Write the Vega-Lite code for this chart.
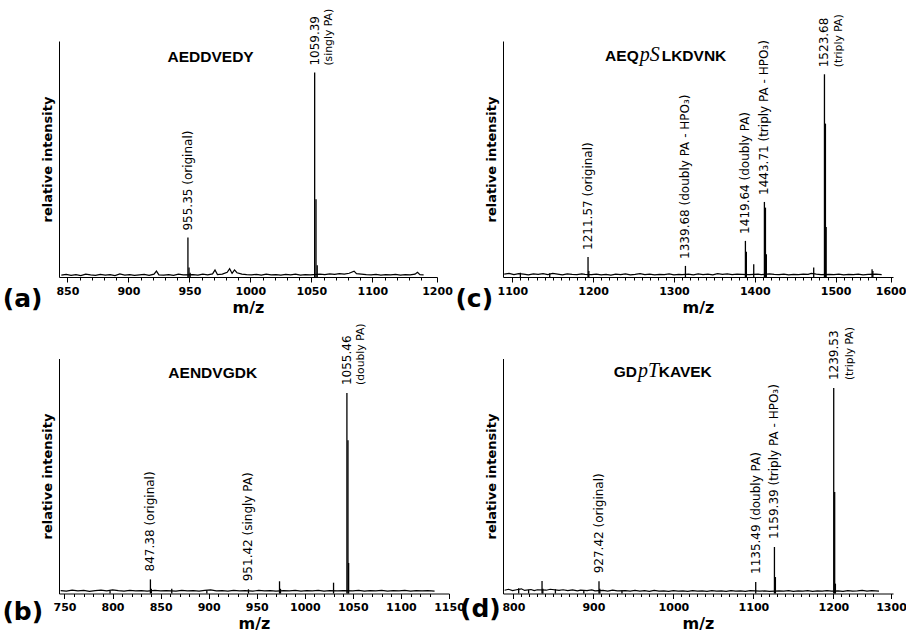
{
"$schema":"https://vega.github.io/schema/vega-lite/v6.json",
"background":"white",
"padding":{"left":2,"top":8,"right":0,"bottom":0},
"bounds":"flush",
"columns":2,
"spacing":{"row":81.5,"column":54},
"config":{
 "view":{"stroke":null},
 "text":{"font":"DejaVu Sans","color":"black"},
 "axis":{"labelFont":"DejaVu Sans","labelFontSize":11,"labelFontWeight":"bold","labelColor":"black","titleFont":"DejaVu Sans","titleColor":"black","titleFontWeight":"bold","domainColor":"black","tickColor":"black","grid":false,"labelOverlap":false,"labelFlush":false},
 "axisX":{"titleFontSize":16,"tickSize":5,"labelPadding":3,"titlePadding":3},
 "axisY":{"ticks":false,"labels":false,"titleFontSize":13,"titlePadding":5}
},
"datasets":{
"noiseA":[{"mz":845,"h":0.008},{"mz":849,"h":0.011},{"mz":853,"h":0.007},{"mz":857,"h":0.010},{"mz":861,"h":0.006},{"mz":865,"h":0.012},{"mz":869,"h":0.009},{"mz":873,"h":0.007},{"mz":877,"h":0.011},{"mz":881,"h":0.008},{"mz":885,"h":0.010},{"mz":889,"h":0.006},{"mz":893,"h":0.013},{"mz":897,"h":0.008},{"mz":901,"h":0.010},{"mz":905,"h":0.007},{"mz":909,"h":0.009},{"mz":913,"h":0.011},{"mz":917,"h":0.007},{"mz":921,"h":0.012},{"mz":923,"h":0.025},{"mz":925,"h":0.009},{"mz":929,"h":0.008},{"mz":933,"h":0.010},{"mz":937,"h":0.007},{"mz":941,"h":0.012},{"mz":945,"h":0.009},{"mz":953,"h":0.010},{"mz":957,"h":0.008},{"mz":961,"h":0.012},{"mz":965,"h":0.009},{"mz":969,"h":0.013},{"mz":971,"h":0.03},{"mz":973,"h":0.010},{"mz":977,"h":0.012},{"mz":981,"h":0.02},{"mz":983,"h":0.035},{"mz":985,"h":0.015},{"mz":987,"h":0.03},{"mz":989,"h":0.018},{"mz":993,"h":0.012},{"mz":997,"h":0.010},{"mz":1001,"h":0.009},{"mz":1005,"h":0.011},{"mz":1009,"h":0.008},{"mz":1013,"h":0.012},{"mz":1017,"h":0.009},{"mz":1021,"h":0.010},{"mz":1025,"h":0.008},{"mz":1029,"h":0.011},{"mz":1033,"h":0.009},{"mz":1037,"h":0.012},{"mz":1041,"h":0.008},{"mz":1045,"h":0.010},{"mz":1049,"h":0.009},{"mz":1057,"h":0.012},{"mz":1061,"h":0.010},{"mz":1065,"h":0.013},{"mz":1069,"h":0.011},{"mz":1073,"h":0.014},{"mz":1077,"h":0.012},{"mz":1081,"h":0.016},{"mz":1085,"h":0.025},{"mz":1087,"h":0.014},{"mz":1091,"h":0.012},{"mz":1095,"h":0.010},{"mz":1099,"h":0.009},{"mz":1103,"h":0.011},{"mz":1107,"h":0.008},{"mz":1111,"h":0.010},{"mz":1115,"h":0.009},{"mz":1119,"h":0.011},{"mz":1123,"h":0.008},{"mz":1127,"h":0.010},{"mz":1131,"h":0.009},{"mz":1135,"h":0.012},{"mz":1137,"h":0.02},{"mz":1139,"h":0.010},{"mz":1142,"h":0.009}],
"peaksA":[{"mz":948.8,"h":0.167,"lab":"955.35 (original)"},{"mz":949.7,"h":0.04},{"mz":950.6,"h":0.018},{"mz":1052.7,"h":0.866,"lab":"1059.39","lab2":"(singly PA)"},{"mz":1053.8,"h":0.329},{"mz":1054.8,"h":0.05}],
"noiseB":[{"mz":746,"h":0.012},{"mz":752,"h":0.010},{"mz":758,"h":0.014},{"mz":764,"h":0.011},{"mz":770,"h":0.013},{"mz":776,"h":0.009},{"mz":782,"h":0.012},{"mz":788,"h":0.014},{"mz":794,"h":0.011},{"mz":800,"h":0.015},{"mz":806,"h":0.012},{"mz":812,"h":0.010},{"mz":818,"h":0.013},{"mz":824,"h":0.011},{"mz":830,"h":0.012},{"mz":836,"h":0.010},{"mz":844,"h":0.013},{"mz":850,"h":0.011},{"mz":856,"h":0.012},{"mz":866,"h":0.010},{"mz":872,"h":0.013},{"mz":878,"h":0.011},{"mz":884,"h":0.012},{"mz":890,"h":0.010},{"mz":896,"h":0.013},{"mz":902,"h":0.015},{"mz":908,"h":0.011},{"mz":914,"h":0.012},{"mz":920,"h":0.010},{"mz":926,"h":0.013},{"mz":932,"h":0.011},{"mz":938,"h":0.012},{"mz":946,"h":0.010},{"mz":952,"h":0.013},{"mz":958,"h":0.011},{"mz":964,"h":0.012},{"mz":970,"h":0.010},{"mz":978,"h":0.012},{"mz":984,"h":0.011},{"mz":990,"h":0.013},{"mz":996,"h":0.010},{"mz":1002,"h":0.012},{"mz":1008,"h":0.011},{"mz":1014,"h":0.013},{"mz":1020,"h":0.010},{"mz":1026,"h":0.012},{"mz":1034,"h":0.011},{"mz":1040,"h":0.012},{"mz":1050,"h":0.011},{"mz":1056,"h":0.013},{"mz":1062,"h":0.010},{"mz":1068,"h":0.012},{"mz":1074,"h":0.011},{"mz":1080,"h":0.013},{"mz":1086,"h":0.010},{"mz":1092,"h":0.012},{"mz":1098,"h":0.011},{"mz":1104,"h":0.013},{"mz":1110,"h":0.010},{"mz":1116,"h":0.012},{"mz":1122,"h":0.011},{"mz":1128,"h":0.012},{"mz":1135,"h":0.010}],
"peaksB":[{"mz":797.4,"h":0.012},{"mz":839.4,"h":0.06,"lab":"847.38 (original)"},{"mz":840.4,"h":0.02},{"mz":861.6,"h":0.02},{"mz":898.1,"h":0.014},{"mz":941.4,"h":0.018,"lab":"951.42 (singly PA)"},{"mz":973.7,"h":0.052},{"mz":974.7,"h":0.02},{"mz":1029.9,"h":0.046},{"mz":1043.8,"h":0.853,"lab":"1055.46","lab2":"(doubly PA)"},{"mz":1044.9,"h":0.652},{"mz":1045.6,"h":0.13}],
"noiseC":[{"mz":1090,"h":0.012},{"mz":1096,"h":0.015},{"mz":1102,"h":0.010},{"mz":1108,"h":0.014},{"mz":1114,"h":0.012},{"mz":1120,"h":0.009},{"mz":1126,"h":0.013},{"mz":1132,"h":0.011},{"mz":1138,"h":0.014},{"mz":1144,"h":0.010},{"mz":1150,"h":0.015},{"mz":1156,"h":0.012},{"mz":1162,"h":0.009},{"mz":1168,"h":0.013},{"mz":1174,"h":0.011},{"mz":1180,"h":0.010},{"mz":1186,"h":0.013},{"mz":1190,"h":0.011},{"mz":1198,"h":0.010},{"mz":1204,"h":0.012},{"mz":1210,"h":0.009},{"mz":1216,"h":0.011},{"mz":1222,"h":0.008},{"mz":1228,"h":0.012},{"mz":1234,"h":0.010},{"mz":1240,"h":0.013},{"mz":1246,"h":0.009},{"mz":1252,"h":0.011},{"mz":1258,"h":0.014},{"mz":1264,"h":0.010},{"mz":1270,"h":0.012},{"mz":1276,"h":0.009},{"mz":1282,"h":0.011},{"mz":1288,"h":0.010},{"mz":1294,"h":0.013},{"mz":1300,"h":0.009},{"mz":1306,"h":0.011},{"mz":1310,"h":0.010},{"mz":1318,"h":0.012},{"mz":1324,"h":0.009},{"mz":1330,"h":0.013},{"mz":1336,"h":0.010},{"mz":1342,"h":0.012},{"mz":1348,"h":0.009},{"mz":1354,"h":0.014},{"mz":1360,"h":0.011},{"mz":1366,"h":0.013},{"mz":1372,"h":0.010},{"mz":1378,"h":0.012},{"mz":1384,"h":0.011},{"mz":1393,"h":0.010},{"mz":1404,"h":0.012},{"mz":1408,"h":0.010},{"mz":1418,"h":0.013},{"mz":1424,"h":0.011},{"mz":1430,"h":0.010},{"mz":1436,"h":0.012},{"mz":1442,"h":0.009},{"mz":1448,"h":0.011},{"mz":1454,"h":0.010},{"mz":1460,"h":0.012},{"mz":1466,"h":0.011},{"mz":1470,"h":0.015},{"mz":1476,"h":0.012},{"mz":1482,"h":0.010},{"mz":1492,"h":0.011},{"mz":1498,"h":0.010},{"mz":1504,"h":0.012},{"mz":1510,"h":0.009},{"mz":1516,"h":0.011},{"mz":1522,"h":0.010},{"mz":1528,"h":0.012},{"mz":1534,"h":0.009},{"mz":1540,"h":0.011},{"mz":1550,"h":0.012},{"mz":1557,"h":0.010}],
"peaksC":[{"mz":1110,"h":0.018},{"mz":1146.3,"h":0.016},{"mz":1193.7,"h":0.085,"lab":"1211.57 (original)"},{"mz":1194.7,"h":0.025},{"mz":1314.2,"h":0.047,"lab":"1339.68 (doubly PA - HPO₃)"},{"mz":1388.4,"h":0.153,"lab":"1419.64 (doubly PA)"},{"mz":1389.6,"h":0.107},{"mz":1398.7,"h":0.054},{"mz":1411.9,"h":0.318,"lab":"1443.71 (triply PA - HPO₃)"},{"mz":1413.2,"h":0.294},{"mz":1414.3,"h":0.096},{"mz":1472.9,"h":0.04},{"mz":1486.2,"h":0.859,"lab":"1523.68","lab2":"(triply PA)"},{"mz":1487.4,"h":0.65},{"mz":1488.3,"h":0.212},{"mz":1545.1,"h":0.033},{"mz":1546.1,"h":0.025}],
"noiseD":[{"mz":789,"h":0.014},{"mz":794,"h":0.018},{"mz":799,"h":0.012},{"mz":804,"h":0.016},{"mz":810,"h":0.02},{"mz":814,"h":0.013},{"mz":822,"h":0.017},{"mz":826,"h":0.012},{"mz":830,"h":0.016},{"mz":841,"h":0.014},{"mz":846,"h":0.018},{"mz":857,"h":0.013},{"mz":862,"h":0.016},{"mz":868,"h":0.012},{"mz":874,"h":0.015},{"mz":880,"h":0.011},{"mz":884,"h":0.014},{"mz":892,"h":0.012},{"mz":898,"h":0.015},{"mz":902,"h":0.011},{"mz":912,"h":0.013},{"mz":918,"h":0.010},{"mz":924,"h":0.014},{"mz":930,"h":0.011},{"mz":940,"h":0.012},{"mz":946,"h":0.010},{"mz":952,"h":0.013},{"mz":958,"h":0.010},{"mz":964,"h":0.012},{"mz":970,"h":0.009},{"mz":976,"h":0.013},{"mz":982,"h":0.010},{"mz":988,"h":0.011},{"mz":994,"h":0.009},{"mz":1000,"h":0.012},{"mz":1006,"h":0.010},{"mz":1012,"h":0.011},{"mz":1018,"h":0.009},{"mz":1024,"h":0.012},{"mz":1030,"h":0.010},{"mz":1036,"h":0.011},{"mz":1042,"h":0.009},{"mz":1048,"h":0.012},{"mz":1054,"h":0.010},{"mz":1060,"h":0.011},{"mz":1066,"h":0.009},{"mz":1072,"h":0.012},{"mz":1078,"h":0.010},{"mz":1084,"h":0.011},{"mz":1090,"h":0.009},{"mz":1096,"h":0.012},{"mz":1108,"h":0.010},{"mz":1114,"h":0.011},{"mz":1120,"h":0.009},{"mz":1132,"h":0.011},{"mz":1138,"h":0.010},{"mz":1144,"h":0.012},{"mz":1150,"h":0.009},{"mz":1156,"h":0.011},{"mz":1162,"h":0.010},{"mz":1168,"h":0.012},{"mz":1174,"h":0.009},{"mz":1180,"h":0.011},{"mz":1186,"h":0.010},{"mz":1192,"h":0.012},{"mz":1198,"h":0.010},{"mz":1206,"h":0.011},{"mz":1212,"h":0.009},{"mz":1218,"h":0.012},{"mz":1224,"h":0.010},{"mz":1230,"h":0.011},{"mz":1236,"h":0.013},{"mz":1242,"h":0.010},{"mz":1248,"h":0.012},{"mz":1257,"h":0.010}],
"peaksD":[{"mz":806.6,"h":0.022},{"mz":819,"h":0.016},{"mz":835.8,"h":0.053},{"mz":836.8,"h":0.02},{"mz":852.5,"h":0.018},{"mz":888,"h":0.014},{"mz":907,"h":0.052,"lab":"927.42 (original)"},{"mz":908,"h":0.02},{"mz":935.7,"h":0.013},{"mz":1102.9,"h":0.049,"lab":"1135.49 (doubly PA)"},{"mz":1126.3,"h":0.198,"lab":"1159.39 (triply PA - HPO₃)"},{"mz":1127.5,"h":0.07},{"mz":1200.4,"h":0.874,"lab":"1239.53","lab2":"(triply PA)"},{"mz":1201.6,"h":0.432},{"mz":1202.5,"h":0.042}]
},
"concat":[
{
 "width":378,"height":236,
 "title":{"text":"(a)","orient":"bottom","anchor":"start","frame":"group","dx":-56.3,"dy":-28,"offset":0,"font":"DejaVu Sans","fontSize":25,"fontWeight":"bold","color":"black"},
 "resolve":{"axis":{"x":"independent","y":"independent"}},
 "layer":[
  {"data":{"name":"noiseA"},"mark":{"type":"line","color":"black","strokeWidth":1.2},
   "encoding":{"x":{"field":"mz","type":"quantitative","scale":{"domain":[843.1,1153],"nice":false,"zero":false},"axis":{"orient":"bottom","title":"m/z","values":[850,900,950,1000,1050,1100,1153],"format":"d","labelExpr":"datum.value > 1140 ? '1200' : datum.label"}},
    "y":{"field":"h","type":"quantitative","scale":{"domain":[0,1],"nice":false},"axis":{"orient":"left","title":"relative intensity"}}}},
  {"data":{"name":"peaksA"},"mark":{"type":"rule","color":"black","strokeWidth":1.3},
   "encoding":{"x":{"field":"mz","type":"quantitative","scale":{"domain":[843.1,1153],"nice":false,"zero":false},"axis":{"orient":"bottom","title":null,"labels":false,"domain":false,"tickSize":3,"values":[860,870,880,890,910,920,930,940,960,970,980,990,1010,1020,1030,1040,1060,1070,1080,1090,1110,1120,1130,1140]}},
    "y":{"field":"h","type":"quantitative","scale":{"domain":[0,1],"nice":false},"axis":null},"y2":{"datum":0}}},
  {"data":{"name":"peaksA"},"transform":[{"filter":"isValid(datum.lab)"}],"mark":{"type":"text","angle":270,"align":"left","baseline":"middle","dx":7,"fontSize":12},
   "encoding":{"x":{"field":"mz","type":"quantitative","scale":{"domain":[843.1,1153],"nice":false,"zero":false},"axis":null},"y":{"field":"h","type":"quantitative","scale":{"domain":[0,1],"nice":false},"axis":null},"text":{"field":"lab"}}},
  {"data":{"name":"peaksA"},"transform":[{"filter":"isValid(datum.lab2)"}],"mark":{"type":"text","angle":270,"align":"left","baseline":"middle","dx":7,"dy":14,"fontSize":10.8},
   "encoding":{"x":{"field":"mz","type":"quantitative","scale":{"domain":[843.1,1153],"nice":false,"zero":false},"axis":null},"y":{"field":"h","type":"quantitative","scale":{"domain":[0,1],"nice":false},"axis":null},"text":{"field":"lab2"}}},
  {"data":{"values":[{"pep":"AEDDVEDY"}]},"mark":{"type":"text","font":"Liberation Sans","fontWeight":"bold","fontSize":15.5,"align":"center","baseline":"alphabetic"},
   "encoding":{"x":{"datum":967.4,"type":"quantitative","scale":{"domain":[843.1,1153],"nice":false,"zero":false},"axis":null},"y":{"datum":0.912,"type":"quantitative","scale":{"domain":[0,1],"nice":false},"axis":null},"text":{"field":"pep"}}}
 ]
},
{
 "width":390,"height":236,
 "title":{"text":"(c)","orient":"bottom","anchor":"start","frame":"group","dx":-47.6,"dy":-28,"offset":0,"font":"DejaVu Sans","fontSize":25,"fontWeight":"bold","color":"black"},
 "resolve":{"axis":{"x":"independent","y":"independent"}},
 "layer":[
  {"data":{"name":"noiseC"},"mark":{"type":"line","color":"black","strokeWidth":1.2},
   "encoding":{"x":{"field":"mz","type":"quantitative","scale":{"domain":[1088.5,1571],"nice":false,"zero":false},"axis":{"orient":"bottom","title":"m/z","values":[1100,1200,1300,1400,1500,1568],"format":"d","labelExpr":"datum.value > 1560 ? '1600' : datum.label"}},
    "y":{"field":"h","type":"quantitative","scale":{"domain":[0,1],"nice":false},"axis":{"orient":"left","title":"relative intensity"}}}},
  {"data":{"name":"peaksC"},"mark":{"type":"rule","color":"black","strokeWidth":1.3},
   "encoding":{"x":{"field":"mz","type":"quantitative","scale":{"domain":[1088.5,1571],"nice":false,"zero":false},"axis":{"orient":"bottom","title":null,"labels":false,"domain":false,"tickSize":3,"values":[1110,1120,1130,1140,1150,1160,1170,1180,1190,1210,1220,1230,1240,1250,1260,1270,1280,1290,1310,1320,1330,1340,1350,1360,1370,1380,1390,1410,1420,1430,1440,1450,1460,1470,1480,1490,1510,1520,1530,1540,1550]}},
    "y":{"field":"h","type":"quantitative","scale":{"domain":[0,1],"nice":false},"axis":null},"y2":{"datum":0}}},
  {"data":{"name":"peaksC"},"transform":[{"filter":"isValid(datum.lab)"}],"mark":{"type":"text","angle":270,"align":"left","baseline":"middle","dx":7,"fontSize":12},
   "encoding":{"x":{"field":"mz","type":"quantitative","scale":{"domain":[1088.5,1571],"nice":false,"zero":false},"axis":null},"y":{"field":"h","type":"quantitative","scale":{"domain":[0,1],"nice":false},"axis":null},"text":{"field":"lab"}}},
  {"data":{"name":"peaksC"},"transform":[{"filter":"isValid(datum.lab2)"}],"mark":{"type":"text","angle":270,"align":"left","baseline":"middle","dx":7,"dy":15,"fontSize":10.8},
   "encoding":{"x":{"field":"mz","type":"quantitative","scale":{"domain":[1088.5,1571],"nice":false,"zero":false},"axis":null},"y":{"field":"h","type":"quantitative","scale":{"domain":[0,1],"nice":false},"axis":null},"text":{"field":"lab2"}}},
  {"data":{"values":[{"pep":"AEQ"}]},"mark":{"type":"text","font":"Liberation Sans","fontWeight":"bold","fontSize":15.5,"align":"right","baseline":"alphabetic"},
   "encoding":{"x":{"datum":1256.4,"type":"quantitative","scale":{"domain":[1088.5,1571],"nice":false,"zero":false},"axis":null},"y":{"datum":0.915,"type":"quantitative","scale":{"domain":[0,1],"nice":false},"axis":null},"text":{"field":"pep"}}},
  {"data":{"values":[{"pep":"pS"}]},"mark":{"type":"text","font":"Liberation Serif","fontStyle":"italic","fontSize":20,"align":"left","baseline":"alphabetic","dx":1},
   "encoding":{"x":{"datum":1256.4,"type":"quantitative","scale":{"domain":[1088.5,1571],"nice":false,"zero":false},"axis":null},"y":{"datum":0.915,"type":"quantitative","scale":{"domain":[0,1],"nice":false},"axis":null},"text":{"field":"pep"}}},
  {"data":{"values":[{"pep":"LKDVNK"}]},"mark":{"type":"text","font":"Liberation Sans","fontWeight":"bold","fontSize":15.5,"align":"left","baseline":"alphabetic","dx":23},
   "encoding":{"x":{"datum":1256.4,"type":"quantitative","scale":{"domain":[1088.5,1571],"nice":false,"zero":false},"axis":null},"y":{"datum":0.915,"type":"quantitative","scale":{"domain":[0,1],"nice":false},"axis":null},"text":{"field":"pep"}}}
 ]
},
{
 "width":390,"height":235,
 "title":{"text":"(b)","orient":"bottom","anchor":"start","frame":"group","dx":-56.6,"dy":-32,"offset":0,"font":"DejaVu Sans","fontSize":25,"fontWeight":"bold","color":"black"},
 "resolve":{"axis":{"x":"independent","y":"independent"}},
 "layer":[
  {"data":{"name":"noiseB"},"mark":{"type":"line","color":"black","strokeWidth":1.2},
   "encoding":{"x":{"field":"mz","type":"quantitative","scale":{"domain":[744.3,1150],"nice":false,"zero":false},"axis":{"orient":"bottom","title":"m/z","values":[750,800,850,900,950,1000,1050,1100,1150],"format":"d"}},
    "y":{"field":"h","type":"quantitative","scale":{"domain":[0,1],"nice":false},"axis":{"orient":"left","title":"relative intensity"}}}},
  {"data":{"name":"peaksB"},"mark":{"type":"rule","color":"black","strokeWidth":1.3},
   "encoding":{"x":{"field":"mz","type":"quantitative","scale":{"domain":[744.3,1150],"nice":false,"zero":false},"axis":{"orient":"bottom","title":null,"labels":false,"domain":false,"tickSize":3,"values":[760,770,780,790,810,820,830,840,860,870,880,890,910,920,930,940,960,970,980,990,1010,1020,1030,1040,1060,1070,1080,1090,1110,1120,1130]}},
    "y":{"field":"h","type":"quantitative","scale":{"domain":[0,1],"nice":false},"axis":null},"y2":{"datum":0}}},
  {"data":{"name":"peaksB"},"transform":[{"filter":"isValid(datum.lab)"}],"mark":{"type":"text","angle":270,"align":"left","baseline":"middle","dx":8,"fontSize":12},
   "encoding":{"x":{"field":"mz","type":"quantitative","scale":{"domain":[744.3,1150],"nice":false,"zero":false},"axis":null},"y":{"field":"h","type":"quantitative","scale":{"domain":[0,1],"nice":false},"axis":null},"text":{"field":"lab"}}},
  {"data":{"name":"peaksB"},"transform":[{"filter":"isValid(datum.lab2)"}],"mark":{"type":"text","angle":270,"align":"left","baseline":"middle","dx":8,"dy":14,"fontSize":10.8},
   "encoding":{"x":{"field":"mz","type":"quantitative","scale":{"domain":[744.3,1150],"nice":false,"zero":false},"axis":null},"y":{"field":"h","type":"quantitative","scale":{"domain":[0,1],"nice":false},"axis":null},"text":{"field":"lab2"}}},
  {"data":{"values":[{"pep":"AENDVGDK"}]},"mark":{"type":"text","font":"Liberation Sans","fontWeight":"bold","fontSize":15.5,"align":"center","baseline":"alphabetic"},
   "encoding":{"x":{"datum":904.2,"type":"quantitative","scale":{"domain":[744.3,1150],"nice":false,"zero":false},"axis":null},"y":{"datum":0.918,"type":"quantitative","scale":{"domain":[0,1],"nice":false},"axis":null},"text":{"field":"pep"}}}
 ]
},
{
 "width":390,"height":235,
 "title":{"text":"(d)","orient":"bottom","anchor":"start","frame":"group","dx":-43,"dy":-35,"offset":0,"font":"DejaVu Sans","fontSize":25,"fontWeight":"bold","color":"black"},
 "resolve":{"axis":{"x":"independent","y":"independent"}},
 "layer":[
  {"data":{"name":"noiseD"},"mark":{"type":"line","color":"black","strokeWidth":1.2},
   "encoding":{"x":{"field":"mz","type":"quantitative","scale":{"domain":[787,1274.5],"nice":false,"zero":false},"axis":{"orient":"bottom","title":"m/z","values":[800,900,1000,1100,1200,1272],"format":"d","labelExpr":"datum.value > 1260 ? '1300' : datum.label"}},
    "y":{"field":"h","type":"quantitative","scale":{"domain":[0,1],"nice":false},"axis":{"orient":"left","title":"relative intensity"}}}},
  {"data":{"name":"peaksD"},"mark":{"type":"rule","color":"black","strokeWidth":1.3},
   "encoding":{"x":{"field":"mz","type":"quantitative","scale":{"domain":[787,1274.5],"nice":false,"zero":false},"axis":{"orient":"bottom","title":null,"labels":false,"domain":false,"tickSize":3,"values":[810,820,830,840,850,860,870,880,890,910,920,930,940,950,960,970,980,990,1010,1020,1030,1040,1050,1060,1070,1080,1090,1110,1120,1130,1140,1150,1160,1170,1180,1190,1210,1220,1230,1240,1250]}},
    "y":{"field":"h","type":"quantitative","scale":{"domain":[0,1],"nice":false},"axis":null},"y2":{"datum":0}}},
  {"data":{"name":"peaksD"},"transform":[{"filter":"isValid(datum.lab)"}],"mark":{"type":"text","angle":270,"align":"left","baseline":"middle","dx":8,"fontSize":12},
   "encoding":{"x":{"field":"mz","type":"quantitative","scale":{"domain":[787,1274.5],"nice":false,"zero":false},"axis":null},"y":{"field":"h","type":"quantitative","scale":{"domain":[0,1],"nice":false},"axis":null},"text":{"field":"lab"}}},
  {"data":{"name":"peaksD"},"transform":[{"filter":"isValid(datum.lab2)"}],"mark":{"type":"text","angle":270,"align":"left","baseline":"middle","dx":8,"dy":16,"fontSize":10.8},
   "encoding":{"x":{"field":"mz","type":"quantitative","scale":{"domain":[787,1274.5],"nice":false,"zero":false},"axis":null},"y":{"field":"h","type":"quantitative","scale":{"domain":[0,1],"nice":false},"axis":null},"text":{"field":"lab2"}}},
  {"data":{"values":[{"pep":"GD"}]},"mark":{"type":"text","font":"Liberation Sans","fontWeight":"bold","fontSize":15.5,"align":"right","baseline":"alphabetic"},
   "encoding":{"x":{"datum":954.5,"type":"quantitative","scale":{"domain":[787,1274.5],"nice":false,"zero":false},"axis":null},"y":{"datum":0.921,"type":"quantitative","scale":{"domain":[0,1],"nice":false},"axis":null},"text":{"field":"pep"}}},
  {"data":{"values":[{"pep":"pT"}]},"mark":{"type":"text","font":"Liberation Serif","fontStyle":"italic","fontSize":20,"align":"left","baseline":"alphabetic","dx":1},
   "encoding":{"x":{"datum":954.5,"type":"quantitative","scale":{"domain":[787,1274.5],"nice":false,"zero":false},"axis":null},"y":{"datum":0.921,"type":"quantitative","scale":{"domain":[0,1],"nice":false},"axis":null},"text":{"field":"pep"}}},
  {"data":{"values":[{"pep":"KAVEK"}]},"mark":{"type":"text","font":"Liberation Sans","fontWeight":"bold","fontSize":15.5,"align":"left","baseline":"alphabetic","dx":21.7},
   "encoding":{"x":{"datum":954.5,"type":"quantitative","scale":{"domain":[787,1274.5],"nice":false,"zero":false},"axis":null},"y":{"datum":0.921,"type":"quantitative","scale":{"domain":[0,1],"nice":false},"axis":null},"text":{"field":"pep"}}}
 ]
}
]
}
